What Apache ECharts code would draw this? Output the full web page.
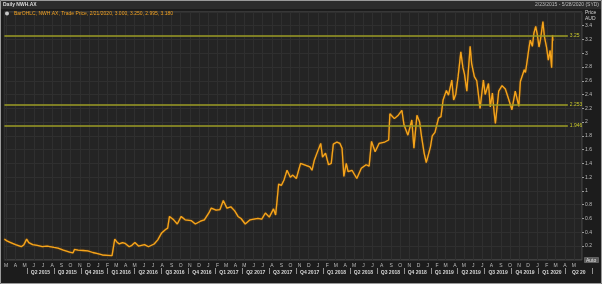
<!DOCTYPE html>
<html><head><meta charset="utf-8">
<script src="https://cdn.jsdelivr.net/npm/echarts@6/dist/echarts.min.js"></script>
<style>html,body{margin:0;padding:0;background:#1c1c1c;overflow:hidden}#c{width:602px;height:284px}</style>
</head><body><div id="c"></div>
<script>
// ---- data ----
const dates = [
 '2015-02-23','2015-03-05','2015-03-16','2015-04-01','2015-04-20','2015-04-29','2015-05-08','2015-05-15','2015-05-28','2015-06-12','2015-06-29','2015-07-15','2015-08-07','2015-08-20','2015-09-07','2015-09-28','2015-10-09','2015-10-14','2015-10-26','2015-11-12','2015-11-27','2015-12-14','2015-12-30',
 '2016-01-15','2016-02-01','2016-02-16','2016-02-25','2016-03-03','2016-03-11','2016-03-22','2016-03-30','2016-04-13','2016-04-22','2016-05-02','2016-05-14','2016-06-03','2016-06-16','2016-07-05','2016-07-17','2016-07-30','2016-08-12','2016-08-19','2016-08-25','2016-09-08','2016-09-20','2016-10-03','2016-10-16','2016-11-05','2016-11-19','2016-12-06','2016-12-19',
 '2017-01-03','2017-01-11','2017-01-27','2017-02-09','2017-02-20','2017-03-04','2017-03-17','2017-03-30','2017-04-10','2017-04-20','2017-05-04','2017-05-20','2017-06-15','2017-06-28','2017-07-10','2017-07-23','2017-08-06','2017-08-13','2017-08-17','2017-08-23','2017-09-01','2017-09-10','2017-09-20','2017-10-01','2017-10-09','2017-10-21','2017-11-04','2017-11-17','2017-12-05','2017-12-12','2017-12-20',
 '2018-01-02','2018-01-10','2018-01-16','2018-01-26','2018-02-05','2018-02-14','2018-02-21','2018-03-05','2018-03-15','2018-03-22','2018-03-28','2018-04-05','2018-04-11','2018-04-24','2018-05-10','2018-05-25','2018-06-10','2018-06-20','2018-06-28','2018-07-10','2018-07-23','2018-08-11','2018-08-24','2018-08-28','2018-09-12','2018-09-25','2018-10-07','2018-10-14','2018-10-27','2018-11-09','2018-11-16','2018-11-26','2018-12-05','2018-12-11','2018-12-20','2018-12-27',
 '2019-01-10','2019-01-16','2019-01-25','2019-02-06','2019-02-14','2019-02-21','2019-03-04','2019-03-11','2019-03-22','2019-03-28','2019-04-04','2019-04-12','2019-04-21','2019-04-28','2019-05-03','2019-05-11','2019-05-22','2019-05-27','2019-06-05','2019-06-13','2019-06-24','2019-07-05','2019-07-11','2019-07-22','2019-07-28','2019-08-04','2019-08-10','2019-08-14','2019-08-25','2019-09-05','2019-09-16','2019-09-25','2019-10-08','2019-10-19','2019-10-31','2019-11-05','2019-11-18','2019-11-22','2019-11-28','2019-12-04','2019-12-08','2019-12-15','2019-12-20','2019-12-26','2019-12-31',
 '2020-01-06','2020-01-11','2020-01-19','2020-01-24','2020-01-31','2020-02-06','2020-02-12','2020-02-17','2020-02-20','2020-02-21'
];
const prices = [
 0.30,0.27,0.25,0.22,0.19,0.22,0.30,0.25,0.22,0.21,0.19,0.20,0.18,0.17,0.14,0.11,0.10,0.15,0.14,0.135,0.13,0.106,0.09,
 0.07,0.065,0.06,0.30,0.26,0.23,0.25,0.24,0.19,0.21,0.25,0.20,0.22,0.19,0.23,0.29,0.39,0.44,0.46,0.63,0.58,0.52,0.63,0.58,0.57,0.52,0.56,0.58,
 0.68,0.75,0.72,0.73,0.86,0.75,0.77,0.71,0.63,0.60,0.52,0.58,0.60,0.59,0.68,0.62,0.74,0.65,0.82,1.10,1.08,1.16,1.30,1.20,1.23,1.18,1.40,1.38,1.35,1.30,1.45,
 1.60,1.69,1.49,1.55,1.38,1.40,1.68,1.71,1.69,1.62,1.21,1.40,1.28,1.30,1.18,1.33,1.38,1.36,1.72,1.57,1.69,1.71,1.74,2.12,2.05,2.10,2.17,1.96,1.81,2.03,1.62,2.10,2.00,1.80,1.55,1.41,
 1.64,1.80,1.85,2.06,2.08,2.32,2.46,2.39,2.61,2.32,2.40,2.66,3.02,2.79,2.70,2.45,3.10,2.85,2.66,2.60,2.20,2.61,2.40,2.56,2.22,2.42,2.13,1.98,2.45,2.53,2.48,2.36,2.18,2.45,2.23,2.59,2.76,2.72,2.90,3.09,3.19,3.10,3.29,3.39,3.28,
 3.09,3.20,3.46,3.24,3.09,2.90,3.04,2.79,3.26,3.18
];
const seriesName = 'BarOHLC, NWH.AX, Trade Price, 2/21/2020, 3.000, 3.250, 2.995, 3.180';
const refLevels = [3.25, 2.253, 1.946];
const refLabels = ['3.25', '2.253', '1.946'];
const lastPrice = 3.18;
const lastPriceLabel = '3.180';
const monthLetters = ['J','F','M','A','M','J','J','A','S','O','N','D'];
const quarterLabels = ['', 'Q2 2015','Q3 2015','Q4 2015','Q1 2016','Q2 2016','Q3 2016','Q4 2016','Q1 2017','Q2 2017','Q3 2017','Q4 2017','Q1 2018','Q2 2018','Q3 2018','Q4 2018','Q1 2019','Q2 2019','Q3 2019','Q4 2019','Q1 2020','Q2 20'];
const rangeStart = '2015-02-23', rangeEnd = '2020-05-28', refLineEnd = '2020-04-11';

function ts(s){ const p = s.split('-').map(Number); return Date.UTC(p[0], p[1]-1, p[2]); }
const seriesData = dates.map((d,i) => [ts(d), prices[i]]);
const DAY = 86400000;

const chart = echarts.init(document.getElementById('c'), null, {renderer:'canvas'});
const gridColor = '#2f2f2f';
const txt = '#bdbdbd';

const markData = refLevels.map((v,i) => [
  {name: refLabels[i], coord: [ts(rangeStart), v]},
  {coord: [ts(refLineEnd), v]}
]);
markData.push({
  name: lastPriceLabel, yAxis: lastPrice,
  lineStyle: {opacity: 0},
  label: {show:true, position:'end', distance:1, formatter:'{b}', color:'#1a1a1a', backgroundColor:'#f2a51e', fontSize:5, padding:[1,3,0,3], fontFamily:'Liberation Sans'}
});

chart.setOption({
  animation: false,
  useUTC: true,
  backgroundColor: '#1c1c1c',
  textStyle: {fontFamily: 'Liberation Sans'},
  title: [
    {text:'Daily NWH.AX', left:3, top:2, padding:0, textStyle:{color:'#dcdcdc', fontSize:5, fontWeight:'bold', fontFamily:'Liberation Sans'}},
    {text:'2/23/2015 - 5/28/2020 (SYD)', right:3, top:2, padding:0, textStyle:{color:txt, fontSize:5, fontWeight:'normal', fontFamily:'Liberation Sans'}},
    {text:'Price', left:585, top:10, padding:0, textStyle:{color:'#d0d0d0', fontSize:5, fontWeight:'normal', fontFamily:'Liberation Sans'}},
    {text:'AUD', left:585, top:16.5, padding:0, textStyle:{color:'#d0d0d0', fontSize:5, fontWeight:'normal', fontFamily:'Liberation Sans'}},
    {text:'Auto', left:584, top:257, padding:[1,2,0,2], backgroundColor:'#5a5a5a', borderColor:'#888', borderWidth:0.5, textStyle:{color:'#e0e0e0', fontSize:5, fontWeight:'normal', fontFamily:'Liberation Sans'}}
  ],
  legend: {
    left: 5, top: 11, padding: 0, selectedMode: false,
    icon: 'circle', itemWidth: 4, itemHeight: 4,
    textStyle: {color:'#f0a020', fontSize:5, fontFamily:'Liberation Sans'},
    data: [{name: seriesName, itemStyle:{color:'#c8c8c8'}}]
  },
  graphic: [
    {type:'rect', z:-1, shape:{x:0,y:0,width:602,height:9}, style:{fill:'#2c2c2c'}, silent:true},
    {type:'rect', z:100, shape:{x:0.5,y:0.5,width:601,height:283}, style:{fill:null, stroke:'#9a9a9a', lineWidth:1}, silent:true}
  ],
  grid: [
    {left:4.4, right:20, top:11.9, bottom:24.2, show:true, backgroundColor:'#242424', borderColor:'#4a4a4a', borderWidth:1, containLabel:false},
    {left:-11.5, width:603.8, top:262, height:6, show:false, containLabel:false}
  ],
  xAxis: [
    {
      type:'time', gridIndex:0, min: ts(rangeStart), max: ts(rangeEnd),
      minInterval: 28*DAY, maxInterval: 31*DAY,
      axisLine:{show:false}, axisTick:{show:false},
      splitLine:{show:true, lineStyle:{color:gridColor, width:1}},
      axisLabel:{
        show:true, color:txt, fontSize:5, margin:3, showMinLabel:false, showMaxLabel:false,
        formatter: v => monthLetters[new Date(v).getUTCMonth()]
      }
    },
    {
      type:'category', gridIndex:1, data: quarterLabels, boundaryGap:true,
      axisLine:{show:false},
      axisTick:{show:true, length:6, lineStyle:{color:'#b0b0b0', width:0.8}},
      axisLabel:{interval:0, color:'#d6d6d6', fontSize:5, fontWeight:'bold', margin:2},
      splitLine:{show:false}
    }
  ],
  yAxis: [
    {
      type:'value', gridIndex:0, position:'right', min:0, max:3.6, interval:0.2,
      axisLine:{show:false},
      axisTick:{show:true, length:2, lineStyle:{color:'#9a9a9a'}},
      splitLine:{show:true, lineStyle:{color:gridColor, width:1}},
      axisLabel:{color:txt, fontSize:5, margin:3, showMinLabel:false, showMaxLabel:false,
        formatter: v => String(+v.toFixed(1))}
    },
    {type:'value', gridIndex:1, show:false}
  ],
  series: [{
    name: seriesName,
    type: 'line', xAxisIndex:0, yAxisIndex:0,
    data: seriesData,
    showSymbol: false, symbol:'none',
    color: '#f5a51c',
    lineStyle: {color:'#f5a51c', width:1.3, shadowColor:'rgba(190,110,0,0.8)', shadowBlur:1.5},
    markLine: {
      silent: true, symbol:['none','none'], animation:false,
      lineStyle: {color:'#9c9c24', width:1.6, type:'solid'},
      label: {show:true, position:'end', distance:2, formatter:'{b}', color:'#c9c92a', fontSize:5, fontFamily:'Liberation Sans'},
      data: markData
    }
  }]
});
</script></body></html>
